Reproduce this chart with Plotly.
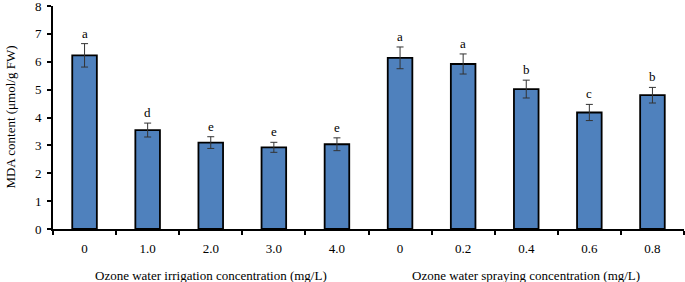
import plotly.graph_objects as go

categories = ["irr_0", "irr_1.0", "irr_2.0", "irr_3.0", "irr_4.0",
              "spr_0", "spr_0.2", "spr_0.4", "spr_0.6", "spr_0.8"]
tick_labels = ["0", "1.0", "2.0", "3.0", "4.0", "0", "0.2", "0.4", "0.6", "0.8"]
mda_values = [6.23, 3.55, 3.10, 2.93, 3.04, 6.14, 5.92, 5.02, 4.18, 4.80]
mda_errors = [0.42, 0.25, 0.21, 0.18, 0.23, 0.39, 0.36, 0.32, 0.29, 0.28]
sig_letters = ["a", "d", "e", "e", "e", "a", "a", "b", "c", "b"]
group_titles = ["Ozone water irrigation concentration (mg/L)",
                "Ozone water spraying concentration (mg/L)"]
y_title = "MDA content (μmol/g FW)"

FONT = "Liberation Serif"
FS = 13

fig = go.Figure()
fig.add_trace(go.Bar(
    x=categories, y=mda_values,
    marker=dict(color="#4F81BD", line=dict(color="black", width=1.8)),
    error_y=dict(type="data", array=mda_errors, visible=True,
                 color="#333333", thickness=1, width=3.5),
    width=0.39,
))

for c, v, e, t in zip(categories, mda_values, mda_errors, sig_letters):
    fig.add_annotation(x=c, y=v + e, text=t, showarrow=False,
                       yanchor="bottom", yshift=1,
                       font=dict(family=FONT, size=FS, color="black"))

fig.add_annotation(x=2, y=-0.207, xref="x", yref="paper", text=group_titles[0],
                   showarrow=False, yanchor="middle",
                   font=dict(family=FONT, size=FS, color="black"))
fig.add_annotation(x=7, y=-0.207, xref="x", yref="paper", text=group_titles[1],
                   showarrow=False, yanchor="middle",
                   font=dict(family=FONT, size=FS, color="black"))
fig.add_annotation(x=-0.068, y=0.5, xref="paper", yref="paper", text=y_title,
                   showarrow=False, textangle=-90, xanchor="center", yanchor="middle",
                   font=dict(family=FONT, size=FS, color="black"))

fig.update_layout(
    width=685, height=282,
    margin=dict(l=53, r=1, t=6, b=53, autoexpand=False),
    plot_bgcolor="white", paper_bgcolor="white",
    showlegend=False,
    font=dict(family=FONT, size=FS, color="black"),
    xaxis=dict(type="category", tickmode="array", tickvals=categories,
               ticktext=tick_labels, tickson="boundaries",
               ticks="outside", ticklen=4, tickcolor="black", tickwidth=1.5,
               ticklabelstandoff=6,
               showline=True, linecolor="black", linewidth=1.8,
               showgrid=False, range=[-0.5, 9.5], automargin=False),
    yaxis=dict(range=[0, 8], dtick=1, ticks="outside", ticklen=4,
               tickcolor="black", tickwidth=1.5, ticklabelstandoff=3,
               ticklabeloverflow="allow",
               showline=True, linecolor="black", linewidth=1.8,
               showgrid=False, zeroline=False, automargin=False),
)

fig.write_html("out.html", config={"displayModeBar": False},
               post_script="document.body.style.margin='0';document.body.style.overflow='hidden';")
